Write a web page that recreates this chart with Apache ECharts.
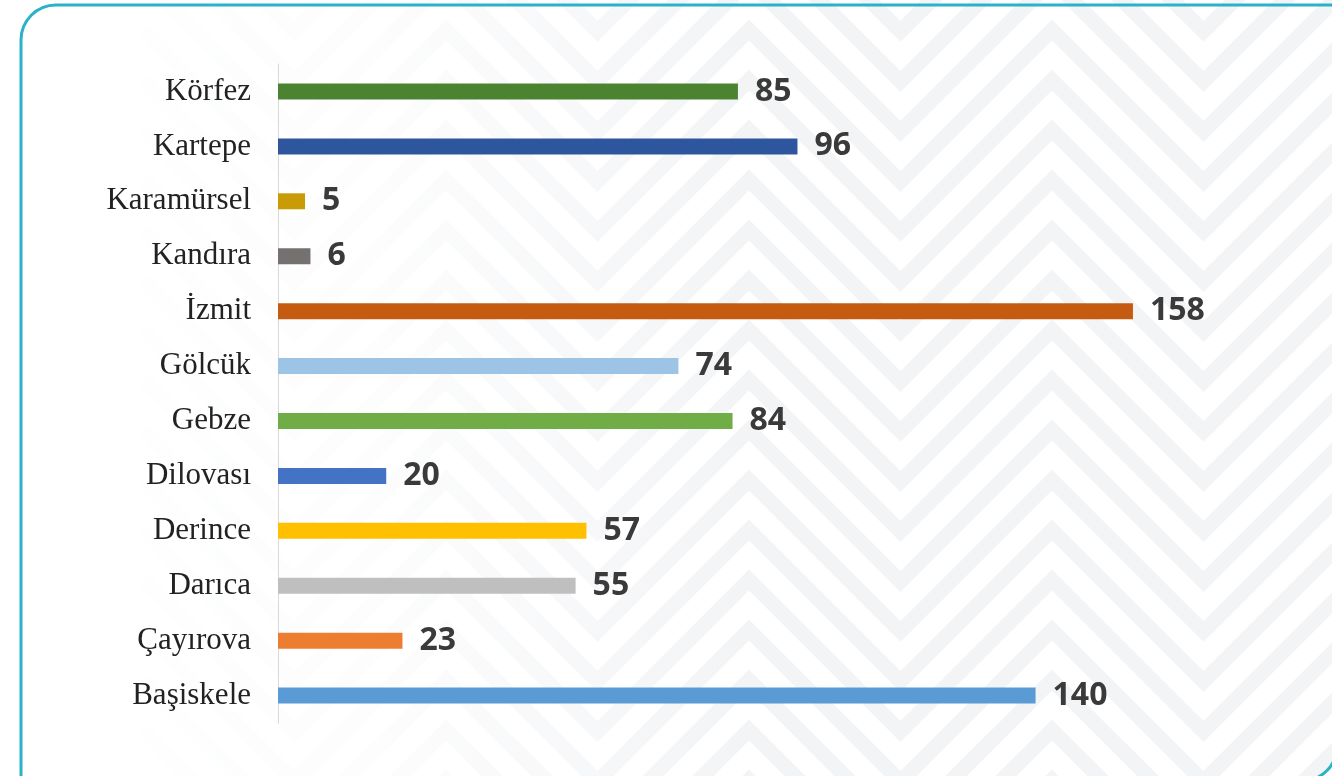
<!DOCTYPE html>
<html>
<head>
<meta charset="utf-8">
<script src="https://cdn.jsdelivr.net/npm/echarts@6/dist/echarts.min.js"></script>
<style>
  html, body { margin: 0; padding: 0; background: #fff; }
  #chart { width: 1332px; height: 776px; }
</style>
</head>
<body>
<div id="chart"></div>
<script>
// ilçeler (yukarıdan aşağıya)
var ilceler = ['Körfez', 'Kartepe', 'Karamürsel', 'Kandıra', 'İzmit', 'Gölcük',
               'Gebze', 'Dilovası', 'Derince', 'Darıca', 'Çayırova', 'Başiskele'];
var sayilar = [85, 96, 5, 6, 158, 74, 84, 20, 57, 55, 23, 140];
var renkler = ['#4c8331', '#2e569e', '#c99b07', '#757171', '#c55a11', '#9dc3e6',
               '#70ad47', '#4472c4', '#ffc000', '#bfbfbf', '#ed7d31', '#5b9bd5'];

var chart = echarts.init(document.getElementById('chart'));

// arka plan zikzak deseni (sadece dekor)
var desen = [];
for (var b = -220; b < 800; b += 50) {
  var pts = [];
  var peak = true;
  for (var x = 143; x < 1500; x += 151.5) {
    pts.push([x, peak ? b : b + 151.5]);
    peak = !peak;
  }
  desen.push({
    type: 'polyline', z: -10, silent: true,
    shape: { points: pts },
    style: { stroke: '#f3f4f6', lineWidth: 15, fill: null }
  });
}
// sol tarafı beyaza soldur
desen.push({
  type: 'rect', z: -9, silent: true,
  shape: { x: 0, y: 0, width: 750, height: 776 },
  style: {
    fill: new echarts.graphic.LinearGradient(0, 0, 1, 0, [
      { offset: 0, color: 'rgba(255,255,255,0.97)' },
      { offset: 0.5, color: 'rgba(255,255,255,0.8)' },
      { offset: 1, color: 'rgba(255,255,255,0)' }
    ])
  }
});
// çerçeve
desen.push({
  type: 'rect', z: 20, silent: true,
  shape: { x: 21, y: 5, width: 1316, height: 776, r: [35, 0, 35, 0] },
  style: { stroke: '#29b2c8', lineWidth: 3, fill: null }
});

var option = {
  backgroundColor: '#ffffff',
  animation: false,
  graphic: desen,
  grid: { left: 278, right: 80, top: 64, bottom: 53, containLabel: false },
  xAxis: {
    type: 'value', min: 0, max: 180, show: false,
    splitLine: { show: false }
  },
  yAxis: {
    type: 'category',
    data: ilceler,
    inverse: true,
    axisLine: { show: true, lineStyle: { color: '#d9d9d9', width: 1 } },
    axisTick: { show: false },
    axisLabel: {
      margin: 27,
      color: '#222',
      fontFamily: 'Liberation Serif',
      fontSize: 31,
      padding: [4, 0, 0, 0]
    }
  },
  series: [{
    type: 'bar',
    barWidth: 16,
    data: sayilar.map(function (v, i) {
      return { value: v, itemStyle: { color: renkler[i] } };
    }),
    label: {
      show: true,
      position: 'right',
      distance: 17,
      color: '#3a3a3a',
      fontFamily: 'Open Sans',
      fontWeight: 'bold',
      fontSize: 32
    }
  }]
};
chart.setOption(option);
</script>
</body>
</html>
